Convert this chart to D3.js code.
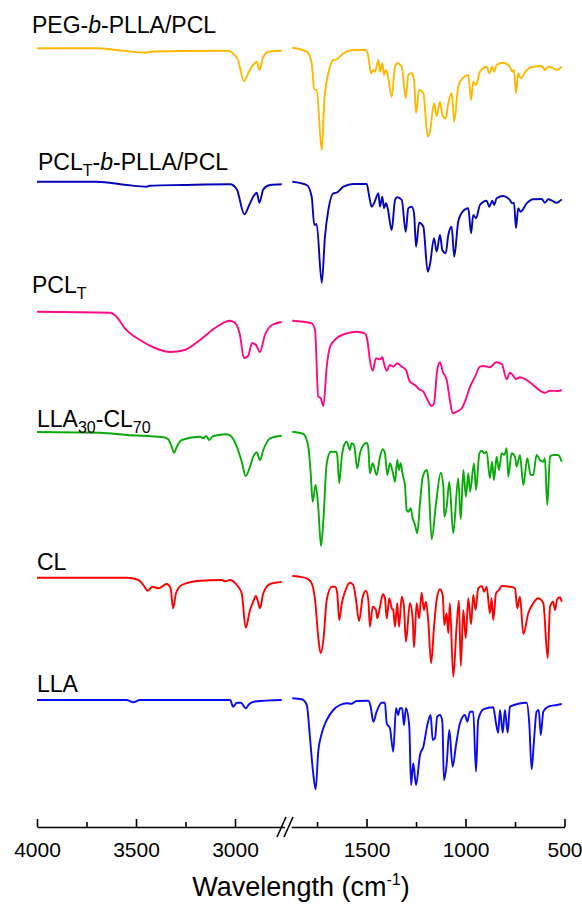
<!DOCTYPE html>
<html>
<head>
<meta charset="utf-8">
<script src="https://cdn.jsdelivr.net/npm/d3@7/dist/d3.min.js"></script>
<style>
  html, body { margin: 0; padding: 0; background: #fff; }
  svg { display: block; }
</style>
</head>
<body>
<div id="chart"></div>
<script>
// FTIR spectra, stacked. Values are [wavenumber (cm-1), transmittance (a.u.)]

var seriesNames = ['PEG-b-PLLA/PCL', 'PCLT-b-PLLA/PCL', 'PCLT', 'LLA30-CL70', 'CL', 'LLA']
var seriesColors = ['#FFB800', '#0505B8', '#FF0A82', '#0AAA0A', '#FF0000', '#0A0AF5']
var seriesOffsets = [661.7, 528.3, 398.3, 278, 132.3, 10]

var majorTicks = [4000, 3500, 3000, 1500, 1000, 500]
var minorTicks = [3750, 3250, 1750, 1250, 750]

var pegPllaPcl = [
  [4000,120],[3700,120],[3600,118.3],[3445,115.6],[3430,116.6],[3260,117.3],[3040,117.6],[3010,115],
  [2985,108.3],[2955,87.3],[2933,95],[2916,101.6],[2900,105],[2890,106.6],[2877,98.3],[2860,110],
  [2840,115.6],[2807,117.3],[2764,117.6],
  [1875,120.6],[1802,116.6],[1777,105],[1764,79],[1752,78.3],[1726,18.3],[1713,68.3],[1693,95],
  [1668,108.3],[1651,109],[1617,115],[1567,118.3],[1508,118.3],[1494,115],[1486,105],[1477,95],
  [1466,98.3],[1457,96.6],[1440,108.3],[1432,96.6],[1420,105],[1412,93.3],[1402,98.3],[1393,93.3],
  [1373,71.6],[1356,101.6],[1345,105],[1322,101.6],[1302,70],[1289,93.3],[1272,95],[1260,88.3],
  [1250,55.6],[1234,78.3],[1213,75],[1191,31.6],[1180,36.6],[1159,65],[1146,52.3],[1129,66.6],
  [1117,53.3],[1100,50],[1087,65],[1070,75],[1057,46.6],[1037,81.6],[1015,90],[986,93.3],
  [972,68.3],[961,86.6],[947,83.3],[927,96.6],[893,101.6],[880,95],[865,101.6],[855,96.6],
  [843,103.3],[809,105.6],[776,101.6],[764,96.6],[755,98.3],[745,75],[734,95],[722,90],
  [691,98.3],[658,101.6],[615,102.3],[599,98.3],[582,101.6],[563,100.6],[540,98.3],[514,101.6]
]

var pclTPllaPcl = [
  [4000,120],[3700,120],[3547,116.7],[3446,115],[3430,116],[3261,116.7],[3025,117.4],[2991,112.4],
  [2953,87.4],[2928,96.7],[2908,105],[2890,109],[2877,99],[2857,112.4],[2823,116.7],[2764,117.4],
  [1875,120],[1802,116.7],[1777,105],[1764,76.7],[1752,77.7],[1726,19],[1710,65],[1693,91.7],
  [1668,108.4],[1651,109],[1617,115],[1567,117.7],[1499,117.7],[1486,105],[1474,95],[1462,98.4],
  [1440,108.4],[1432,95],[1420,105],[1412,93.4],[1402,98.4],[1393,93.4],[1373,71.7],[1356,101.7],
  [1345,104.4],[1322,101.7],[1302,70],[1289,93.4],[1272,95],[1260,88.4],[1250,55],[1234,79],
  [1213,75],[1191,30],[1180,36.7],[1159,63.4],[1146,50],[1129,66.7],[1117,51.7],[1100,48.4],
  [1087,66.7],[1070,75],[1057,45],[1037,80],[1015,90],[986,93.4],[972,68.4],[961,86.7],
  [947,83.4],[927,96.7],[893,101],[880,95],[865,101],[855,96.7],[843,103.4],[809,105.7],
  [776,101.7],[764,98.4],[755,99],[745,73.4],[734,93.4],[722,90],[691,98.4],[658,102.4],
  [615,102.7],[599,99],[582,102.4],[563,101],[540,99],[514,102.4]
]

var pclT = [
  [4000,120],[3631,119],[3598,115],[3556,103.4],[3480,91.7],[3404,83.7],[3328,79.7],[3253,81.7],
  [3177,91.7],[3101,103.7],[3025,111],[2999,108.7],[2975,96.7],[2955,73.7],[2934,75.7],[2914,88.7],
  [2894,86.7],[2874,79.7],[2849,96.7],[2813,106.7],[2764,109.7],
  [1875,111],[1777,108.4],[1760,101.7],[1744,35],[1732,33.7],[1718,25.7],[1701,65],[1684,85],
  [1651,93.4],[1600,98.4],[1550,100],[1508,98.4],[1496,91.7],[1483,71.7],[1469,61],[1452,73.4],
  [1432,72.4],[1420,74.4],[1412,68.4],[1398,61],[1382,66.7],[1365,65],[1345,68.4],[1322,65],
  [1301,61.7],[1281,50],[1255,46.7],[1234,42.4],[1213,40],[1196,33.4],[1171,25.7],[1159,28.4],
  [1143,61.7],[1129,69.4],[1115,60],[1095,51.7],[1079,31.7],[1065,18.4],[1045,20],[1019,23.4],
  [1003,30],[977,45],[952,55],[927,65],[910,65.7],[877,64.4],[846,69.4],[817,67.7],
  [792,52.4],[776,59],[760,56.4],[745,52.7],[725,54.4],[691,51.7],[658,46.7],[624,41],
  [599,39],[573,41],[532,40.7],[514,41.7]
]

var lla30cl70 = [
  [4000,120],[3682,119.3],[3547,117],[3362,114.7],[3337,112.7],[3320,105.3],[3308,99.3],[3294,105.3],
  [3269,112],[3177,115.3],[3160,113.7],[3146,116],[3130,112],[3110,116],[3042,117.7],[3017,115.3],
  [2991,105.3],[2966,90.3],[2946,76],[2924,85.3],[2908,95.3],[2890,99.7],[2874,92],[2857,102],
  [2823,113.7],[2764,116.3],
  [1875,120.3],[1819,118],[1794,105.3],[1782,78.7],[1772,50.3],[1757,67],[1744,45.3],[1730,6],
  [1718,32],[1701,88.7],[1681,100.3],[1654,100.3],[1648,97],[1638,68.7],[1625,95.3],[1609,108.7],
  [1600,110.3],[1584,102],[1575,108.7],[1563,107],[1547,83.7],[1533,98.7],[1516,107],[1499,109.3],
  [1491,104],[1483,78.7],[1469,88.7],[1449,77],[1432,95.3],[1418,102.7],[1407,98.7],[1395,77],
  [1382,88.7],[1368,80.3],[1356,70.3],[1345,92],[1336,82],[1328,88.7],[1317,77],[1306,67],
  [1297,42],[1289,40.3],[1277,43.7],[1267,33.7],[1255,27],[1244,18.7],[1230,48.7],[1216,75.3],
  [1196,82],[1188,73.7],[1171,12.7],[1149,48.7],[1125,79.3],[1112,65.3],[1107,35.3],[1095,45.3],
  [1082,70.3],[1062,18.7],[1037,73.7],[1024,32.7],[1011,82],[998,55.3],[986,78.7],[977,60.3],
  [957,88.7],[947,62],[930,98.7],[918,101.3],[906,98.7],[893,100.3],[877,73.7],[866,90.3],
  [856,72],[843,95.3],[831,82],[817,98.7],[804,97],[792,103.7],[784,75.3],[767,98.7],
  [750,95.3],[742,85.3],[725,97],[708,67],[688,93.7],[671,77],[658,77],[641,97],
  [624,92],[607,90.3],[599,93.7],[587,47],[573,95.3],[557,97],[532,97],[514,90.3]
]

var cl = [
  [4000,120],[3547,120],[3488,117.7],[3463,112.7],[3441,107],[3416,111],[3387,109.4],[3345,113.7],
  [3325,109.4],[3313,89.4],[3298,104.4],[3269,112.7],[3177,117],[3067,117.7],[3051,116.4],[3025,117.7],
  [2991,112.7],[2966,104.4],[2946,70],[2924,87.7],[2908,96],[2894,101.7],[2884,96],[2874,89.4],
  [2857,104.4],[2823,113.7],[2764,115.7],
  [1875,121.7],[1841,121],[1802,119.4],[1777,114.4],[1760,97.7],[1744,61],[1732,44.4],[1718,57.7],
  [1701,97.7],[1676,111],[1659,111],[1648,104.4],[1638,77.7],[1625,94.4],[1609,106],[1584,115],
  [1567,112.7],[1553,97.7],[1538,76.7],[1519,101],[1503,107],[1491,97.7],[1483,71],[1469,91],
  [1452,87.7],[1446,79.4],[1432,91],[1418,103.4],[1407,99.4],[1398,79.4],[1385,99.4],[1373,89.4],
  [1365,87.7],[1356,71],[1345,94.4],[1336,71],[1322,101],[1311,91],[1301,56],[1281,94.4],
  [1267,79.4],[1260,50.4],[1247,94.4],[1234,79.4],[1222,105],[1210,87.7],[1200,96],[1188,76],
  [1174,34.4],[1159,71],[1146,97.7],[1129,108.4],[1115,102.7],[1107,72.7],[1095,84.4],[1087,64.4],
  [1079,94.4],[1062,21],[1045,71],[1033,97],[1024,31.7],[1011,87.7],[999,59.4],[986,99.4],
  [972,73.4],[961,102.7],[949,87.7],[936,109.4],[918,111.7],[906,106],[893,111],[877,84.4],
  [868,99.4],[860,77.7],[846,104.4],[831,107.7],[817,111.7],[776,111],[750,109.4],[739,89.4],
  [725,101],[708,63.7],[683,84.4],[658,94.4],[633,99.4],[607,94.4],[585,39.4],[573,91],
  [557,96],[548,87.7],[537,98.4],[523,100.4],[514,96]
]

var lla = [
  [4000,120],[3547,120],[3514,117.7],[3480,120],[3025,120],[3009,113.3],[2991,117.3],[2970,117.3],
  [2946,111.7],[2928,116],[2899,118.5],[2764,120],
  [1875,121.7],[1827,120.7],[1802,115],[1786,83.3],[1772,51.7],[1757,30.7],[1744,68.3],[1726,86.7],
  [1701,100],[1668,110],[1634,115],[1600,116.7],[1575,116.3],[1550,119],[1491,119.3],[1479,113.3],
  [1466,98.3],[1449,108.3],[1424,117.3],[1407,117.3],[1398,96.7],[1382,92],[1365,68.3],[1351,111.7],
  [1340,105],[1331,111.7],[1320,111.7],[1311,95],[1301,111.7],[1284,93.3],[1275,35],[1264,56.7],
  [1250,35],[1230,65],[1213,73.3],[1191,96.7],[1176,105],[1166,80],[1154,82],[1143,103.3],
  [1129,105],[1117,98.3],[1109,40],[1095,56.7],[1082,90],[1065,53.3],[1048,75],[1028,96.7],
  [1003,105],[991,98.3],[977,108.3],[961,108.3],[947,48.3],[936,100],[910,110.7],[860,112.7],
  [846,96.7],[835,87.3],[826,110],[812,87.3],[801,110],[787,87.3],[776,113.3],[691,117.3],
  [678,96.7],[666,50.7],[654,80],[641,108.3],[630,110],[620,85],[607,108.3],[582,113.3],
  [540,115],[514,116]
]

var seriesData = [pegPllaPcl, pclTPllaPcl, pclT, lla30cl70, cl, lla]

var width = 582
var height = 908
var font = 'Arial, "Liberation Sans", sans-serif'

var svg = d3.select('#chart').append('svg')
    .attr('width', width)
    .attr('height', height)

svg.append('rect')
    .attr('width', width)
    .attr('height', height)
    .attr('fill', '#fff')

// broken x axis: two linear pieces with the same scale per cm-1
var xLeft = d3.scaleLinear().domain([4000, 2750]).range([37, 284.5])
var xRight = d3.scaleLinear().domain([1880, 500]).range([291.3, 564.5])
var y = d3.scaleLinear().domain([0, 800]).range([830, 30])
var axisY = 827

function lineFor(xs, off) {
    return d3.line()
        .x(function(d) { return xs(d[0]) })
        .y(function(d) { return y(d[1] + off) })
        .curve(d3.curveMonotoneX)
}

seriesData.forEach(function(data, i) {
    var off = seriesOffsets[i]
    var left = data.filter(function(d) { return d[0] > 2000 })
    var right = data.filter(function(d) { return d[0] < 2000 })
    var g = svg.append('g')
        .attr('fill', 'none')
        .attr('stroke', seriesColors[i])
        .attr('stroke-width', 1.9)
        .attr('stroke-linejoin', 'round')
    g.append('path').attr('d', lineFor(xLeft, off)(left))
    g.append('path').attr('d', lineFor(xRight, off)(right))
})

// axes
function drawAxis(scale, major, minor) {
    var g = svg.append('g').attr('transform', 'translate(0,' + axisY + ')')
    g.call(d3.axisBottom(scale)
        .tickValues(major.filter(function(v) { return v >= d3.min(scale.domain()) && v <= d3.max(scale.domain()) }))
        .tickSizeInner(-8)
        .tickSizeOuter(0)
        .tickPadding(15)
        .tickFormat(d3.format('d')))
    g.append('g').call(d3.axisBottom(scale)
        .tickValues(minor.filter(function(v) { return v >= d3.min(scale.domain()) && v <= d3.max(scale.domain()) }))
        .tickSizeInner(-5)
        .tickSizeOuter(0)
        .tickFormat(''))
        .select('.domain').remove()
    g.selectAll('path, line').attr('stroke', '#000').attr('stroke-width', 1.6)
    g.selectAll('text')
        .attr('font-family', font)
        .attr('font-size', 21)
        .attr('fill', '#000')
}
drawAxis(xLeft, majorTicks, minorTicks)
drawAxis(xRight, majorTicks, minorTicks)

// break marks
var brk = svg.append('g').attr('stroke', '#000').attr('stroke-width', 1.6)
;[282, 289].forEach(function(bx) {
    brk.append('line')
        .attr('x1', bx - 5).attr('y1', axisY + 10)
        .attr('x2', bx + 4).attr('y2', axisY - 10)
})

svg.append('text')
    .attr('x', 301)
    .attr('y', 896)
    .attr('text-anchor', 'middle')
    .attr('font-family', font)
    .attr('font-size', 27)
    .call(function(t) {
        t.append('tspan').text('Wavelength (cm')
        t.append('tspan').attr('font-size', 16).attr('dy', -11).text('-1')
        t.append('tspan').attr('dy', 11).text(')')
    })

// series labels
var labelPos = [[32, 33], [38, 170], [32, 293], [37, 427], [37, 570], [37, 692]]
var labelParts = [
    [['PEG-', ''], ['b', 'i'], ['-PLLA/PCL', '']],
    [['PCL', ''], ['T', 's'], ['-', ''], ['b', 'i'], ['-PLLA/PCL', '']],
    [['PCL', ''], ['T', 's']],
    [['LLA', ''], ['30', 's'], ['-CL', ''], ['70', 's']],
    [['CL', '']],
    [['LLA', '']]
]
labelParts.forEach(function(parts, i) {
    var t = svg.append('text')
        .attr('x', labelPos[i][0])
        .attr('y', labelPos[i][1])
        .attr('font-family', font)
        .attr('font-size', 23)
        .attr('fill', '#000')
    var shift = 0
    parts.forEach(function(p) {
        var sp = t.append('tspan').text(p[0])
        if (p[1] === 'i') sp.attr('font-style', 'italic')
        if (p[1] === 's') {
            sp.attr('font-size', 16).attr('dy', 6 - shift)
            shift = 6
        } else if (shift) {
            sp.attr('dy', -shift)
            shift = 0
        }
    })
})
</script>
</body>
</html>
